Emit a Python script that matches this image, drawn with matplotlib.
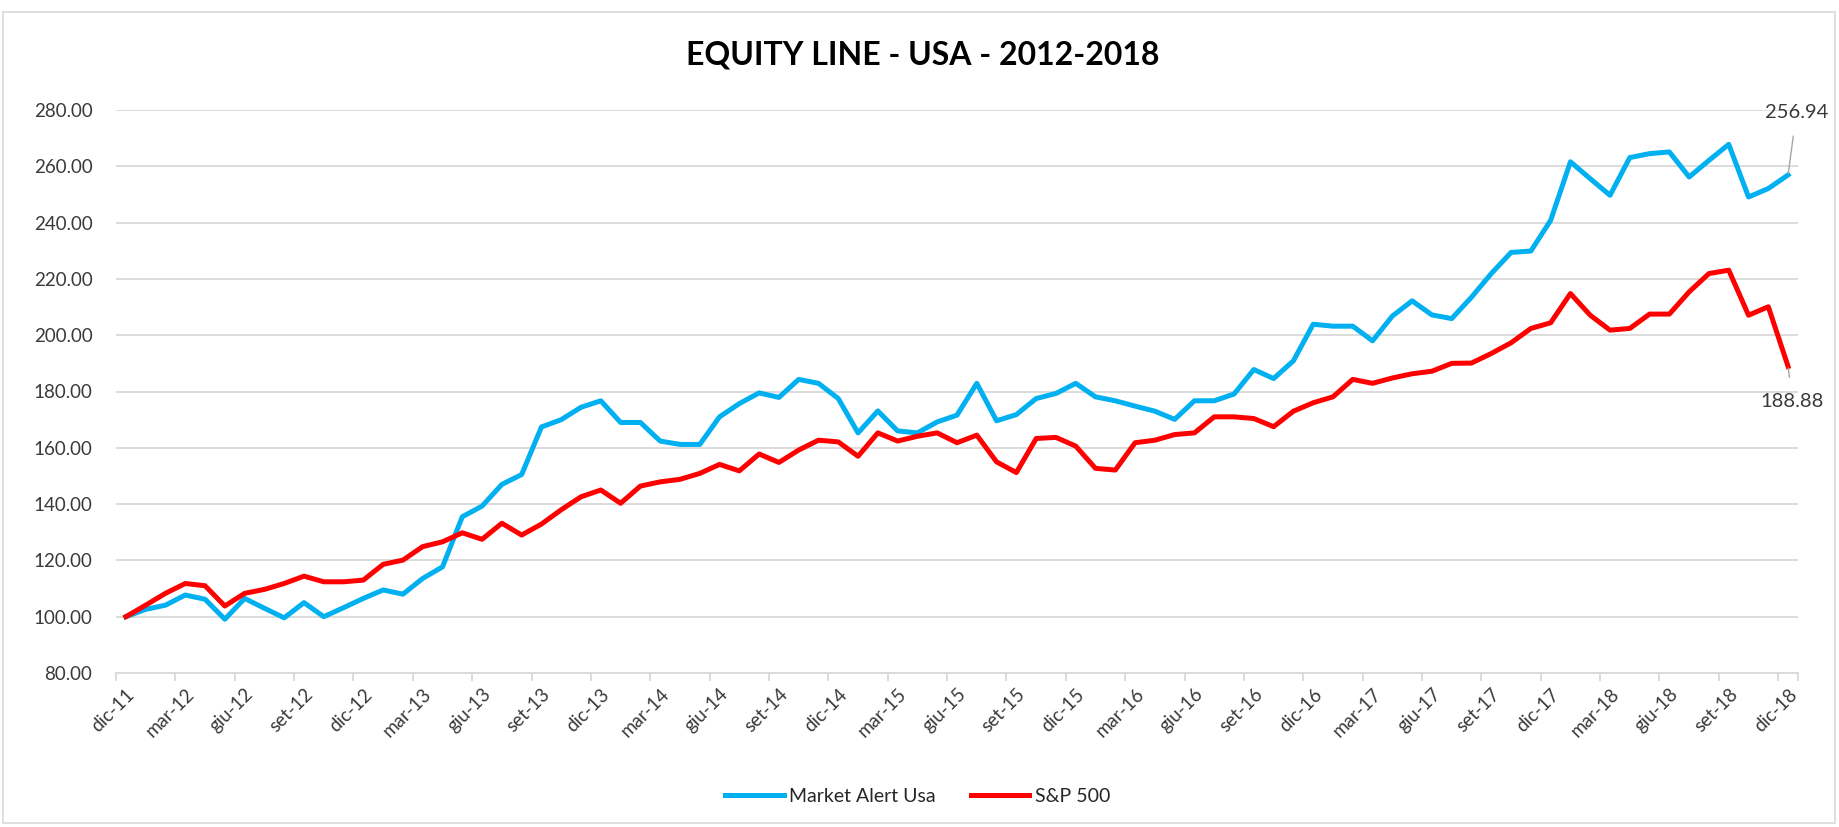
"""
Equity line USA 2012-2018: Market Alert Usa vs S&P 500.
"""

import matplotlib
matplotlib.use("Agg")
import matplotlib.pyplot as plt
from matplotlib.patches import Rectangle

plt.rcParams['font.family'] = ['Lato', 'DejaVu Sans']

# monthly categories, dic-11 .. dic-18
months = ["gen", "feb", "mar", "apr", "mag", "giu",
          "lug", "ago", "set", "ott", "nov", "dic"]
categories = ["dic-11"] + [m + "-" + str(y) for y in range(12, 19) for m in months]

market_alert = [
    100.0, 102.6, 104.1, 107.7, 106.2, 99.1, 106.5, 103.0, 99.6, 105.0,
    100.0, 103.2, 106.5, 109.5, 108.0, 113.6, 117.7, 135.5, 139.3, 147.0,
    150.5, 167.4, 170.0, 174.4, 176.7, 169.0, 169.0, 162.4, 161.2, 161.2,
    171.0, 175.7, 179.5, 177.9, 184.3, 182.9, 177.5, 165.3, 173.1, 166.0,
    165.3, 169.2, 171.6, 182.9, 169.6, 171.8, 177.5, 179.3, 182.9, 178.1,
    176.7, 174.8, 173.0, 170.1, 176.7, 176.7, 179.1, 187.8, 184.6, 190.9,
    203.9, 203.2, 203.2, 198.0, 206.8, 212.2, 207.2, 205.9, 213.5, 221.9,
    229.4, 229.9, 240.8, 261.6, 255.6, 249.7, 263.1, 264.5, 265.1, 256.2,
    262.1, 267.8, 249.1, 252.1, 256.94,
]

sp500 = [
    100.0, 104.1, 108.3, 111.8, 111.0, 103.8, 108.3, 109.7, 111.8, 114.4,
    112.4, 112.4, 113.0, 118.6, 120.1, 124.9, 126.6, 129.8, 127.5, 133.2,
    129.0, 132.9, 138.0, 142.6, 145.0, 140.3, 146.4, 147.9, 148.8, 150.9,
    154.1, 151.8, 157.8, 154.8, 159.2, 162.7, 162.1, 157.0, 165.3, 162.4,
    164.1, 165.3, 161.8, 164.5, 155.0, 151.2, 163.3, 163.7, 160.6, 152.7,
    152.1, 161.8, 162.7, 164.7, 165.3, 171.0, 171.0, 170.4, 167.5, 173.0,
    176.0, 178.1, 184.3, 182.9, 184.8, 186.3, 187.2, 190.0, 190.1, 193.5,
    197.3, 202.4, 204.4, 214.8, 207.1, 201.8, 202.4, 207.5, 207.5, 215.4,
    221.9, 223.1, 207.1, 210.1, 188.88,
]

BLUE = "#00B0F0"
RED = "#FF0000"
GRID = "#D9D9D9"
TEXT = "#3A3A3A"


def draw_chart():
    fig = plt.figure(figsize=(18.4, 8.27), dpi=100)
    fig.patches.append(Rectangle((3 / 1840, 4 / 827), 1832 / 1840, 811 / 827,
                                 transform=fig.transFigure, fill=False,
                                 edgecolor=GRID, linewidth=1.2))

    ax = fig.add_axes([116 / 1840, 1 - 673 / 827, 1682 / 1840, 563 / 827])
    x = list(range(len(categories)))

    ax.plot(x, market_alert, color=BLUE, linewidth=3.6, label="Market Alert Usa",
            solid_joinstyle="round", zorder=3)
    ax.plot(x, sp500, color=RED, linewidth=3.6, label="S&P 500",
            solid_joinstyle="round", zorder=3)

    ax.set_xlim(-0.5, len(categories) - 0.5)
    ax.set_ylim(80, 280)
    ax.set_yticks(range(80, 281, 20))
    ax.set_yticklabels(["%.2f" % v for v in range(80, 281, 20)])
    ax.yaxis.grid(True, color=GRID, linewidth=1.3)
    ax.set_axisbelow(True)

    # labels every 3 months, tick marks between categories
    ax.set_xticks(x[::3])
    ax.set_xticklabels(categories[::3], rotation=45, ha="right",
                       rotation_mode="anchor")
    ax.set_xticks([i - 0.5 for i in x[::3]] + [len(categories) - 0.5], minor=True)
    ax.tick_params(axis="x", which="major", length=0, pad=9,
                   labelsize=13.5, labelcolor=TEXT)
    ax.tick_params(axis="x", which="minor", length=6, color=GRID, width=1.3)
    ax.tick_params(axis="y", length=0, pad=17, labelsize=13.5, labelcolor=TEXT)

    for s in ["top", "right", "left"]:
        ax.spines[s].set_visible(False)
    ax.spines["bottom"].set_color(GRID)
    ax.spines["bottom"].set_linewidth(1.3)

    ax.annotate("%.2f" % market_alert[-1], xy=(x[-1], market_alert[-1]),
                xytext=(6, 45), textcoords="offset points", ha="center",
                va="center", fontsize=14.5, color=TEXT,
                arrowprops=dict(arrowstyle="-", color="#A6A6A6", lw=1,
                                shrinkA=9, shrinkB=1))
    ax.annotate("%.2f" % sp500[-1], xy=(x[-1], sp500[-1]),
                xytext=(3, -25), textcoords="offset points", ha="center",
                va="center", fontsize=14.5, color=TEXT,
                arrowprops=dict(arrowstyle="-", color="#A6A6A6", lw=1,
                                shrinkA=9, shrinkB=1))

    fig.text(923 / 1840, 1 - 55 / 827, "EQUITY LINE - USA - 2012-2018",
             ha="center", va="center", fontsize=23, fontweight="bold",
             color="black")

    fig.legend(loc="center", bbox_to_anchor=(918 / 1840, 1 - 796 / 827),
               ncol=2, frameon=False, fontsize=14, handlelength=3.0,
               handletextpad=0.3, columnspacing=1.8, labelcolor="#262626")

    fig.savefig("out.png", dpi=100, facecolor="white")


def main():
    draw_chart()


if __name__ == "__main__":
    main()
